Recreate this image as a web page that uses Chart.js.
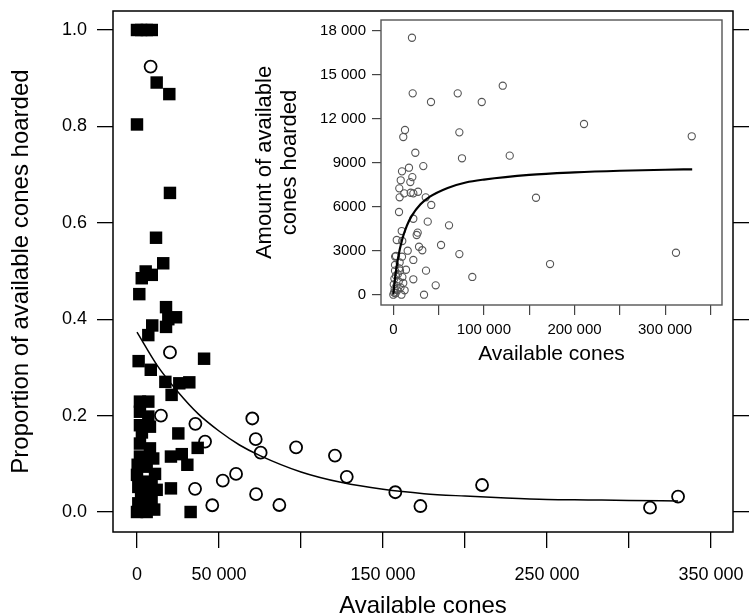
<!DOCTYPE html>
<html>
<head>
<meta charset="utf-8">
<script src="https://cdn.jsdelivr.net/npm/chart.js@4"></script>
<style>
html, body { margin: 0; padding: 0; background: #fff; }
#wrap { position: relative; width: 749px; height: 615px; }
#main { position: absolute; left: 0; top: 0; }
#inset { position: absolute; left: 245px; top: 12px; }
</style>
</head>
<body>
<div id="wrap">
  <canvas id="main" width="749" height="615"></canvas>
  <canvas id="inset" width="485" height="358"></canvas>
</div>
<script>
// ---- main panel: proportion hoarded ----
// filled squares
const sqX = [0, 2500, 6000, 9000, 12000, 19700, 0, 20100, 11600, 16000, 5300, 9000, 2900, 1400,
  17700, 23800, 19100, 9300, 17700, 6900, 40900, 1000, 8400, 17300, 25800, 31900, 21100,
  1800, 6900, 1800, 6900, 1800, 7900, 25200, 37000, 20700, 27300, 30700,
  1800, 7900, 1800, 9900, 400, 5900, 11000, 0, 3900, 8900, 800, 12000, 4900, 8900, 800, 6900, 0, 5900,
  20700, 32700, 3000, 4000, 2500, 10500];
const sqY = [1.0, 1.0, 1.0, 1.0, 0.891, 0.867, 0.804, 0.662, 0.569, 0.516, 0.499, 0.492, 0.485, 0.452,
  0.425, 0.404, 0.400, 0.387, 0.384, 0.367, 0.318, 0.313, 0.295, 0.270, 0.267, 0.269, 0.243,
  0.229, 0.229, 0.208, 0.198, 0.180, 0.177, 0.163, 0.133, 0.115, 0.120, 0.098,
  0.142, 0.132, 0.115, 0.111, 0.098, 0.094, 0.079, 0.077, 0.063, 0.056, 0.052, 0.046, 0.039, 0.028, 0.018, 0.015, 0.0, 0.0,
  0.049, 0.0, 0.165, 0.110, 0.030, 0.005];
// open circles
const ciX = [8300, 20100, 14600, 35600, 41500, 70300, 72400, 75400, 60400, 52300, 35400, 45900,
  72600, 97000, 120700, 127900, 86800, 157500, 172800, 210400, 312800, 329900];
const ciY = [0.924, 0.331, 0.200, 0.183, 0.146, 0.194, 0.151, 0.123, 0.079, 0.065, 0.048, 0.014,
  0.037, 0.134, 0.117, 0.073, 0.0145, 0.041, 0.0124, 0.056, 0.009, 0.032];
// fitted curve
const fitX = [0, 12500, 25000, 37500, 50000, 62500, 75000, 100000, 125000, 150000, 175000, 200000, 225000, 250000, 275000, 300000, 329900];
const fitY = [0.373, 0.303, 0.249, 0.203, 0.168, 0.139, 0.117, 0.083, 0.061, 0.047, 0.038, 0.033, 0.029, 0.026, 0.025, 0.024, 0.023];

const mainXTicks = [0, 50000, 100000, 150000, 200000, 250000, 300000, 350000];
const mainXLabels = ['0', '50 000', '', '150 000', '', '250 000', '', '350 000'];
const mainYTicks = [0, 0.2, 0.4, 0.6, 0.8, 1.0];
const mainYLabels = ['0.0', '0.2', '0.4', '0.6', '0.8', '1.0'];

// ---- inset: amount hoarded ----
const inX = [20600, 21400, 71100, 41600, 97600, 120800, 12900, 11000, 72900, 24300, 75800, 128500,
  17300, 33100, 9600, 21000, 8200, 18800, 6600, 19200, 22100, 27300, 12100, 7000, 35800, 157500,
  210500, 329400, 173000, 312000, 41900, 6300, 22100, 38000, 61500, 9300, 26900, 25800, 3800, 9900,
  28400, 32000, 52700, 15900, 72900, 3000, 9600, 22100, 1900, 36100, 1900, 7400, 87200, 22100, 46800, 33900,
  0, 800, 1500, 2500, 3500, 4500, 6000, 1200, 5000, 8000, 10000, 12500, 2000, 7000, 14000, 500, 3000, 9000, 11000, 6500];
const inY = [17520, 13730, 13730, 13140, 13140, 14250, 11230, 10750, 11070, 9680, 9300, 9480,
  8660, 8770, 8410, 8020, 7800, 7680, 7250, 6950, 6910, 7020, 6910, 6640, 6640, 6610,
  11640, 10800, 2090, 2860, 6120, 5640, 5180, 4980, 4730, 4340, 4230, 4070, 3730, 3660,
  3270, 3030, 3390, 3000, 2770, 2640, 2590, 2370, 2030, 1640, 1640, 1640, 1210, 1050, 640, 0,
  0, 150, 400, 100, 600, 300, 900, 1100, 1400, 500, 1200, 300, 2600, 2200, 1700, 700, 1300, 0, 800, 1800];
const inFitX = [0, 2000, 5000, 10000, 15000, 20000, 30000, 40000, 60000, 80000, 100000, 150000, 200000, 250000, 300000, 329900];
const inFitY = [0, 1160, 2420, 3810, 4710, 5340, 6160, 6670, 7280, 7650, 7850, 8170, 8340, 8450, 8520, 8550];

const inXTicks = [0, 50000, 100000, 150000, 200000, 250000, 300000, 350000];
const inXLabels = ['0', '', '100 000', '', '200 000', '', '300 000', ''];
const inYTicks = [0, 3000, 6000, 9000, 12000, 15000, 18000];
const inYLabels = ['0', '3000', '6000', '9000', '12 000', '15 000', '18 000'];

const FONT = "'Liberation Sans', Arial, Helvetica, sans-serif";

function pts(xs, ys) {
  return xs.map((x, i) => ({ x: x, y: ys[i] }));
}

// fija el tamaño del eje y quita el relleno extra que pide por las etiquetas
function fixSize(prop, size) {
  return s => {
    s[prop] = size;
    s.paddingLeft = 0; s.paddingRight = 0; s.paddingTop = 0; s.paddingBottom = 0;
  };
}

// caja alrededor del area de dibujo (y fondo blanco opcional)
const boxPlugin = {
  id: 'box',
  beforeDraw(chart, args, opts) {
    if (opts.bg) {
      const ctx = chart.ctx;
      ctx.save();
      ctx.fillStyle = '#fff';
      ctx.fillRect(0, 0, chart.width, chart.height);
      ctx.restore();
    }
  },
  afterDraw(chart, args, opts) {
    const { ctx, chartArea: a } = chart;
    ctx.save();
    ctx.strokeStyle = opts.color;
    ctx.lineWidth = opts.width;
    ctx.strokeRect(a.left, a.top, a.right - a.left, a.bottom - a.top);
    ctx.restore();
  }
};

// main chart
new Chart(document.getElementById('main').getContext('2d'), {
  type: 'scatter',
  data: {
    datasets: [
      {
        data: pts(fitX, fitY), showLine: true, borderColor: '#000', borderWidth: 1.5,
        pointRadius: 0, cubicInterpolationMode: 'monotone', order: 1
      },
      {
        data: pts(ciX, ciY), pointStyle: 'circle', pointRadius: 6, borderColor: '#000',
        borderWidth: 1.8, backgroundColor: 'rgba(255,255,255,0)', order: 2
      },
      {
        data: pts(sqX, sqY), pointStyle: 'rect', pointRadius: 8.8, borderWidth: 0,
        backgroundColor: '#000', borderColor: '#000', order: 3
      }
    ]
  },
  options: {
    responsive: false,
    animation: false,
    layout: { padding: { top: 11, right: 0, left: 0, bottom: 0 } },
    plugins: {
      legend: { display: false },
      tooltip: { enabled: false },
      box: { color: '#000', width: 1.5, bg: false }
    },
    scales: {
      x: {
        type: 'linear', min: -14630, max: 363400,
        afterBuildTicks: s => { s.ticks = mainXTicks.map(v => ({ value: v })); },
        afterFit: fixSize('height', 83),
        ticks: {
          autoSkip: false, maxRotation: 0, padding: 16, color: '#000',
          font: { family: FONT, size: 18 },
          callback: (v, i) => mainXLabels[i]
        },
        grid: { drawOnChartArea: false, tickLength: 16, color: '#000', lineWidth: 1.3 },
        border: { display: false },
        title: {
          display: true, text: 'Available cones', color: '#000',
          font: { family: FONT, size: 24, lineHeight: 1 }, padding: { top: 0, bottom: -3 }
        }
      },
      y: {
        type: 'linear', min: -0.0415, max: 1.0394,
        afterBuildTicks: s => { s.ticks = mainYTicks.map(v => ({ value: v })); },
        afterFit: fixSize('width', 113),
        ticks: {
          padding: 10, color: '#000', font: { family: FONT, size: 18 },
          callback: (v, i) => mainYLabels[i]
        },
        grid: { drawOnChartArea: false, tickLength: 16, color: '#000', lineWidth: 1.3 },
        border: { display: false },
        title: {
          display: true, text: 'Proportion of available cones hoarded', color: '#000',
          font: { family: FONT, size: 24, lineHeight: 1 }, padding: { top: 9, bottom: 0 }
        }
      },
      y2: {
        type: 'linear', position: 'right', min: -0.0415, max: 1.0394,
        afterBuildTicks: s => { s.ticks = mainYTicks.map(v => ({ value: v })); },
        afterFit: fixSize('width', 16),
        ticks: { display: false },
        grid: { drawOnChartArea: false, tickLength: 16, color: '#000', lineWidth: 1.3 },
        border: { display: false }
      }
    }
  },
  plugins: [boxPlugin]
});

// inset chart
new Chart(document.getElementById('inset').getContext('2d'), {
  type: 'scatter',
  data: {
    datasets: [
      {
        data: pts(inFitX, inFitY), showLine: true, borderColor: '#000', borderWidth: 2.2,
        pointRadius: 0, cubicInterpolationMode: 'monotone', order: 1
      },
      {
        data: pts(inX, inY), pointStyle: 'circle', pointRadius: 3.6, borderColor: '#555',
        borderWidth: 1.1, backgroundColor: 'rgba(255,255,255,0)', order: 2
      }
    ]
  },
  options: {
    responsive: false,
    animation: false,
    layout: { padding: { top: 8, right: 8, left: 0, bottom: 0 } },
    plugins: {
      legend: { display: false },
      tooltip: { enabled: false },
      box: { color: '#555', width: 1.4, bg: true }
    },
    scales: {
      x: {
        type: 'linear', min: -13580, max: 362800,
        afterBuildTicks: s => { s.ticks = inXTicks.map(v => ({ value: v })); },
        afterFit: fixSize('height', 65),
        ticks: {
          autoSkip: false, maxRotation: 0, padding: 6, color: '#000',
          font: { family: FONT, size: 15 },
          callback: (v, i) => inXLabels[i]
        },
        grid: { drawOnChartArea: false, tickLength: 10, color: '#444', lineWidth: 1.2 },
        border: { display: false },
        title: {
          display: true, text: 'Available cones', color: '#000',
          font: { family: FONT, size: 21, lineHeight: 1 }, padding: { top: 0, bottom: 5 }
        }
      },
      y: {
        type: 'linear', min: -702, max: 18730,
        afterBuildTicks: s => { s.ticks = inYTicks.map(v => ({ value: v })); },
        afterFit: fixSize('width', 136),
        ticks: {
          padding: 6, color: '#000', font: { family: FONT, size: 15 },
          callback: (v, i) => inYLabels[i]
        },
        grid: { drawOnChartArea: false, tickLength: 9, color: '#444', lineWidth: 1.2 },
        border: { display: false },
        title: {
          display: true, text: ['Amount of available', 'cones hoarded'], color: '#000',
          font: { family: FONT, size: 22, lineHeight: 1.15 }, padding: { top: 7, bottom: 0 }
        }
      }
    }
  },
  plugins: [boxPlugin]
});
</script>
</body>
</html>
